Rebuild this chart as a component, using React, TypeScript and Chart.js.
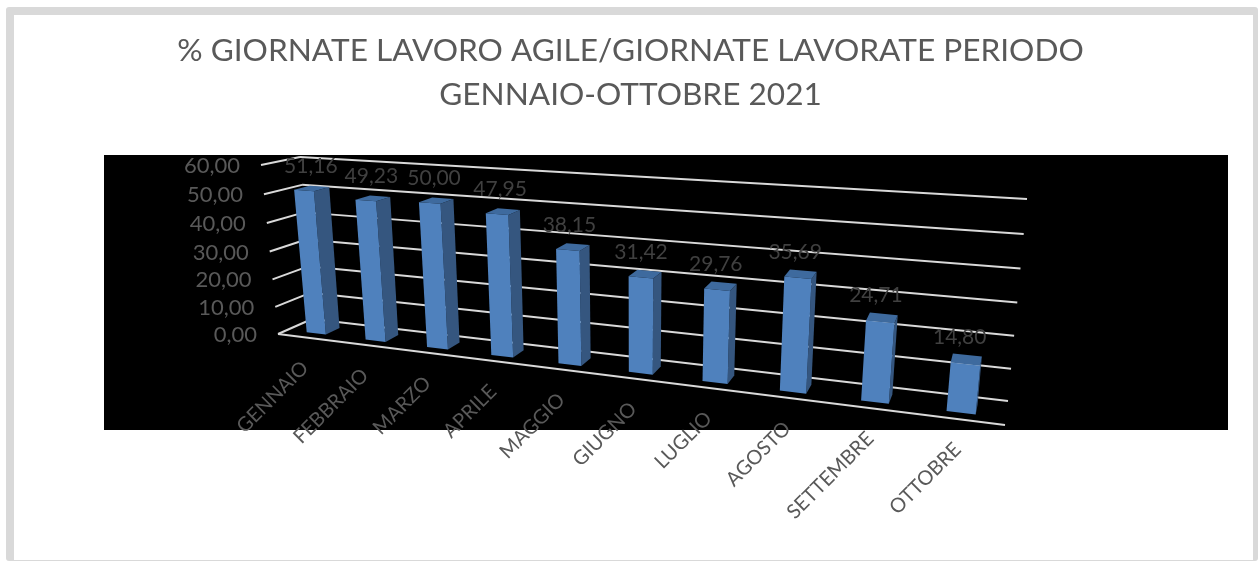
import React, { useEffect, useRef } from "react";
import { Chart, registerables } from "chart.js";

Chart.register(...registerables);

const categories = ["GENNAIO", "FEBBRAIO", "MARZO", "APRILE", "MAGGIO", "GIUGNO", "LUGLIO", "AGOSTO", "SETTEMBRE", "OTTOBRE"];
const values = [51.16, 49.23, 50.0, 47.95, 38.15, 31.42, 29.76, 35.69, 24.71, 14.8];
const titleLines = ["% GIORNATE LAVORO AGILE/GIORNATE LAVORATE PERIODO", "GENNAIO-OTTOBRE 2021"];

type P = [number, number];

// Perspective box corners (screen): front wall and back wall, as [bottom-left, bottom-right, top-left, top-right]
const FRONT: P[] = [[278, 334], [1005, 425], [261, 165], [1027, 214]];
const BACK: P[] = [[312, 319], [1008, 401], [300, 157], [1027, 199]];
const BAR_NEAR = 0.28;
const BAR_FAR = 0.7;
const FONT = "Lato, Carlito, sans-serif";

function quadMap(q: P[]) {
  const [x0, y0] = q[0], [x1, y1] = q[1], [x3, y3] = q[2], [x2, y2] = q[3];
  const dx1 = x1 - x2, dx2 = x3 - x2, dx3 = x0 - x1 + x2 - x3;
  const dy1 = y1 - y2, dy2 = y3 - y2, dy3 = y0 - y1 + y2 - y3;
  const den = dx1 * dy2 - dx2 * dy1;
  const g = (dx3 * dy2 - dx2 * dy3) / den;
  const h = (dx1 * dy3 - dx3 * dy1) / den;
  const a = x1 - x0 + g * x1, b = x3 - x0 + h * x3;
  const d = y1 - y0 + g * y1, e = y3 - y0 + h * y3;
  return (u: number, w: number): P => {
    const k = g * u + h * w + 1;
    return [(a * u + b * w + x0) / k, (d * u + e * w + y0) / k];
  };
}
const frontMap = quadMap(FRONT);
const backMap = quadMap(BACK);
function project(u: number, v: number, w: number): P {
  const f = frontMap(u, w), b = backMap(u, w);
  return [f[0] + (b[0] - f[0]) * v, f[1] + (b[1] - f[1]) * v];
}

function poly(ctx: CanvasRenderingContext2D, pts: P[], fill: string) {
  ctx.beginPath();
  pts.forEach((p, i) => (i ? ctx.lineTo(p[0], p[1]) : ctx.moveTo(p[0], p[1])));
  ctx.closePath();
  ctx.fillStyle = fill;
  ctx.fill();
}

const fmt = (n: number) => n.toFixed(2).replace(".", ",");

const box3d = {
  id: "box3d",
  beforeDraw(chart: any) {
    const ctx = chart.ctx;
    ctx.save();
    ctx.fillStyle = "#000";
    ctx.fillRect(104, 155, 1124, 275);
    ctx.restore();
  },
  beforeDatasetsDraw(chart: any) {
    const ctx = chart.ctx;
    const { chartArea: ca, scales } = chart;
    const wOf = (px: number) => (ca.bottom - px) / (ca.bottom - ca.top);
    ctx.save();
    ctx.strokeStyle = "#D9D9D9";
    ctx.lineWidth = 2;
    const seg = (a: P, b: P) => {
      ctx.beginPath();
      ctx.moveTo(a[0], a[1]);
      ctx.lineTo(b[0], b[1]);
      ctx.stroke();
    };
    const y = scales.y;
    y.ticks.forEach((t: any) => {
      const w = wOf(y.getPixelForValue(t.value));
      seg(project(0, 0, w), project(0, 1, w));
      seg(project(0, 1, w), project(1, 1, w));
    });
    seg(project(0, 0, 0), project(1, 0, 0));
    ctx.restore();
  },
  afterDatasetsDraw(chart: any) {
    const ctx = chart.ctx;
    const { chartArea: ca, scales } = chart;
    const uOf = (px: number) => (px - ca.left) / (ca.right - ca.left);
    const wOf = (px: number) => (ca.bottom - px) / (ca.bottom - ca.top);
    const meta = chart.getDatasetMeta(0);
    ctx.save();
    meta.data.forEach((el: any) => {
      const half = el.width / 2;
      const u0 = uOf(el.x - half), u1 = uOf(el.x + half);
      const w0 = wOf(el.base), w1 = wOf(el.y);
      const n = BAR_NEAR, f = BAR_FAR;
      poly(ctx, [project(u1, n, w0), project(u1, f, w0), project(u1, f, w1), project(u1, n, w1)], "#35567F");
      poly(ctx, [project(u0, n, w1), project(u1, n, w1), project(u1, f, w1), project(u0, f, w1)], "#3E6A9E");
      poly(ctx, [project(u0, n, w0), project(u1, n, w0), project(u1, n, w1), project(u0, n, w1)], "#4F81BD");
    });

    // value labels
    ctx.textAlign = "center";
    ctx.textBaseline = "middle";
    ctx.font = `21px ${FONT}`;
    ctx.fillStyle = "#404040";
    meta.data.forEach((el: any, i: number) => {
      const u = uOf(el.x);
      const p = project(u, 0.5, wOf(el.y));
      ctx.fillText(fmt(values[i]), p[0] - 1 - 6 * u, p[1] - 22);
    });

    // category labels
    ctx.font = `20px ${FONT}`;
    ctx.fillStyle = "#595959";
    categories.forEach((c, i) => {
      const p = project(uOf(scales.x.getPixelForValue(i)), 0, 0);
      ctx.save();
      ctx.translate(p[0] - 2, p[1] + 27);
      ctx.rotate(-Math.PI / 4);
      ctx.textAlign = "right";
      ctx.textBaseline = "middle";
      ctx.fillText(c, 0, 0);
      ctx.restore();
    });

    // value axis labels
    ctx.font = `22px ${FONT}`;
    ctx.fillStyle = "#595959";
    ctx.textAlign = "right";
    ctx.textBaseline = "middle";
    const y = scales.y;
    y.ticks.forEach((t: any) => {
      const p = project(0, 0, wOf(y.getPixelForValue(t.value)));
      ctx.fillText(fmt(t.value), p[0] - 21, p[1] + 1);
    });
    ctx.restore();
  },
};

export default function App() {
  const ref = useRef<HTMLCanvasElement>(null);
  useEffect(() => {
    if (!ref.current) return;
    const chart = new Chart(ref.current, {
      type: "bar",
      data: {
        labels: categories,
        datasets: [{ data: values, backgroundColor: "transparent", barPercentage: 0.33, categoryPercentage: 1 }],
      },
      options: {
        responsive: false,
        animation: false,
        layout: { padding: { left: 3, right: 0, bottom: 228, top: 0 } },
        plugins: {
          legend: { display: false },
          tooltip: { enabled: false },
          title: {
            display: true,
            text: titleLines,
            color: "#595959",
            font: { family: FONT, size: 31.6, weight: "normal", lineHeight: 1.39 },
            padding: { top: 29, bottom: 48 },
          },
        },
        scales: {
          x: { display: false, grid: { display: false } },
          y: {
            min: 0,
            max: 60,
            ticks: { stepSize: 10, display: false },
            grid: { display: false },
            border: { display: false },
          },
        },
      },
      plugins: [box3d],
    } as any);
    return () => chart.destroy();
  }, []);
  return (
    <div style={{ position: "absolute", left: 0, top: 0, width: 1258, height: 561, background: "#fff", overflow: "hidden" }}>
      <div
        style={{
          position: "absolute",
          left: 6,
          top: 7,
          right: 0,
          bottom: 0,
          boxSizing: "border-box",
          borderStyle: "solid",
          borderColor: "#D9D9D9",
          borderWidth: "8px 5px 1px 8px",
          borderRadius: 3,
        }}
      />
      <canvas ref={ref} width={1258} height={561} style={{ position: "absolute", left: 0, top: 0, display: "block" }} />
    </div>
  );
}
